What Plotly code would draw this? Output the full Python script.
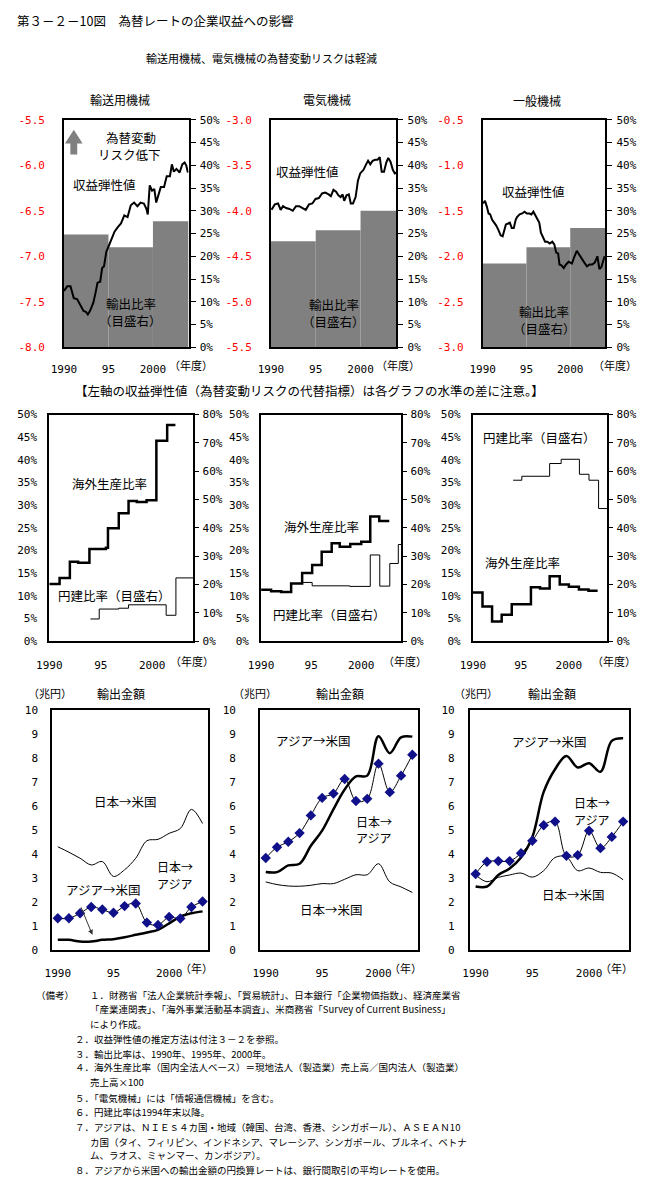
import plotly.graph_objects as go

W, H = 669, 1201
JP = "Noto Sans CJK JP"
MONO = "DejaVu Sans Mono"

# ======================= DATA =======================
# x tick labels
year_ticks = [1990, 1995, 2000]
year_tick_text = ["1990", "95", "2000"]

# ---- Top row: 収益弾性値 (left, red axis) and 輸出比率 (right axis, %) ----
top_titles = ["輸送用機械", "電気機械", "一般機械"]
left_ticks_transport = [-8.0, -7.5, -7.0, -6.5, -6.0, -5.5]
left_ticks_electric = [-5.5, -5.0, -4.5, -4.0, -3.5, -3.0]
left_ticks_general = [-3.0, -2.5, -2.0, -1.5, -1.0, -0.5]
left_text_transport = ["-8.0", "-7.5", "-7.0", "-6.5", "-6.0", "-5.5"]
left_text_electric = ["-5.5", "-5.0", "-4.5", "-4.0", "-3.5", "-3.0"]
left_text_general = ["-3.0", "-2.5", "-2.0", "-1.5", "-1.0", "-0.5"]

export_period_mid = [1992.5, 1997.5, 2002.0]
export_period_width = [5, 5, 4]
export_ratio_transport = [24.8, 22.0, 27.7]
export_ratio_electric = [23.3, 25.7, 30.0]
export_ratio_general = [18.4, 22.0, 26.2]

elast_transport_t = [1990.0, 1990.37, 1990.73, 1991.1, 1991.47, 1991.83, 1992.2, 1992.46, 1992.68,
                     1992.93, 1993.3, 1993.55, 1993.77, 1994.07, 1994.29, 1994.5, 1994.76, 1995.02,
                     1995.31, 1995.68, 1996.05, 1996.41, 1996.78, 1997.15, 1997.51, 1997.88, 1998.25,
                     1998.61, 1998.98, 1999.27, 1999.42, 1999.64, 1999.9, 2000.15, 2000.37, 2000.63,
                     2000.88, 2001.25, 2001.55, 2001.91, 2002.13, 2002.35, 2002.64, 2003.0, 2003.3,
                     2003.56, 2003.74, 2003.93]
elast_transport = [-7.38, -7.33, -7.33, -7.46, -7.47, -7.53, -7.60, -7.61, -7.64, -7.60, -7.51,
                   -7.40, -7.29, -7.28, -7.13, -7.11, -6.95, -6.89, -6.82, -6.73, -6.68, -6.64,
                   -6.55, -6.57, -6.44, -6.41, -6.45, -6.41, -6.42, -6.48, -6.54, -6.22, -6.28,
                   -6.26, -6.41, -6.32, -6.24, -6.24, -6.12, -6.12, -5.99, -6.07, -6.04, -6.08,
                   -5.99, -5.97, -6.00, -6.08]

elast_electric_t = [1990.07, 1990.44, 1990.8, 1991.09, 1991.35, 1991.7, 1992.07, 1992.44, 1992.8,
                    1993.16, 1993.53, 1993.89, 1994.25, 1994.62, 1994.98, 1995.35, 1995.71, 1996.07,
                    1996.44, 1996.69, 1996.98, 1997.27, 1997.53, 1997.78, 1998.0, 1998.18, 1998.44,
                    1998.69, 1998.91, 1999.16, 1999.45, 1999.71, 1999.96, 2000.33, 2000.62, 2000.84,
                    2001.09, 2001.35, 2001.64, 2001.89, 2002.14, 2002.36, 2002.62, 2002.87, 2003.09,
                    2003.34, 2003.6, 2003.82, 2004.0]
elast_electric = [-3.99, -3.93, -3.92, -3.99, -3.95, -3.97, -3.98, -4.00, -3.95, -3.95, -3.97,
                  -3.99, -3.93, -3.92, -3.87, -3.86, -3.81, -3.80, -3.82, -3.84, -3.77, -3.79,
                  -3.83, -3.85, -3.82, -3.89, -3.83, -3.82, -3.92, -3.92, -3.85, -3.67, -3.59,
                  -3.55, -3.49, -3.45, -3.49, -3.45, -3.44, -3.44, -3.41, -3.57, -3.57, -3.47,
                  -3.42, -3.46, -3.55, -3.59, -3.58]

elast_general_t = [1990.04, 1990.26, 1990.49, 1990.67, 1990.86, 1991.08, 1991.31, 1991.53, 1991.79,
                   1992.05, 1992.28, 1992.46, 1992.65, 1992.91, 1993.1, 1993.32, 1993.55, 1993.77,
                   1993.92, 1994.22, 1994.52, 1994.78, 1995.04, 1995.34, 1995.56, 1995.79, 1996.01,
                   1996.27, 1996.46, 1996.65, 1996.91, 1997.13, 1997.39, 1997.65, 1997.95, 1998.18,
                   1998.4, 1998.62, 1998.77, 1999.0, 1999.26, 1999.52, 1999.82, 2000.19, 2000.49,
                   2000.75, 2001.01, 2001.31, 2001.61, 2001.91, 2002.21, 2002.51, 2002.8, 2003.1,
                   2003.33, 2003.55, 2003.77, 2003.92]
elast_general = [-1.42, -1.39, -1.46, -1.53, -1.54, -1.60, -1.63, -1.66, -1.71, -1.77, -1.78,
                 -1.72, -1.65, -1.64, -1.63, -1.69, -1.69, -1.60, -1.57, -1.54, -1.53, -1.51,
                 -1.53, -1.53, -1.54, -1.51, -1.55, -1.58, -1.63, -1.74, -1.79, -1.84, -1.84,
                 -1.86, -1.84, -1.87, -1.96, -1.97, -2.09, -2.10, -2.13, -2.09, -2.06, -2.08,
                 -2.00, -1.94, -1.98, -2.03, -2.07, -2.11, -2.09, -2.09, -2.07, -2.00, -2.14,
                 -2.12, -2.03, -2.00]

# ---- Middle row: 海外生産比率 (left %, thick) and 円建比率 (right %, thin), step lines ----
overseas_transport_t = [1990, 1991, 1992, 1992.8, 1993.9, 1995.5, 1995.7, 1996.75, 1997.7, 1998.5,
                        1999.45, 2000.4, 2001.45, 2002.25]
overseas_transport = [12.6, 13.9, 17.5, 17.3, 20.3, 20.6, 24.9, 28.2, 30.9, 30.7, 31.1, 44.2, 47.7, 47.7]
yen_transport_t = [1994.0, 1994.85, 1996.75, 1997.7, 2001.35, 2002.3, 2004.0]
yen_transport = [7.8, 11.3, 11.6, 12.8, 9.1, 22.3, 22.3]

overseas_electric_t = [1990, 1991.0, 1992.0, 1993.0, 1994.1, 1995.1, 1996.05, 1997.05, 1997.85,
                       1998.9, 2000.0, 2000.9, 2001.8, 2002.8]
overseas_electric = [11.3, 11.0, 10.8, 12.7, 15.0, 16.8, 19.7, 21.6, 20.8, 21.4, 21.9, 27.5, 26.5, 26.5]
yen_electric_t = [1994.1, 1995.1, 1998.85, 2000.9, 2001.85, 2002.85, 2003.7, 2004.0]
yen_electric = [20.7, 19.5, 19.3, 30.4, 19.4, 27.4, 34.1, 34.1]

overseas_general_t = [1990, 1991.0, 1992.0, 1993.0, 1994.05, 1995.0, 1996.05, 1997.0, 1998.0,
                      1999.05, 2000.0, 2001.05, 2002.05, 2003.0]
overseas_general = [10.7, 7.6, 4.3, 5.8, 8.1, 8.1, 11.9, 11.6, 14.3, 12.5, 12.0, 11.4, 11.1, 11.1]
yen_general_t = [1994.2, 1995.1, 1998.0, 1999.2, 2001.1, 2002.1, 2003.1, 2004.0]
yen_general = [56.8, 58.2, 62.7, 64.2, 58.9, 56.8, 46.8, 46.8]

# ---- Bottom row: 輸出金額 (兆円) ----
export_years = list(range(1990, 2004))
jp_asia_transport = [1.31, 1.31, 1.52, 1.78, 1.68, 1.54, 1.82, 1.93, 1.13, 1.03, 1.37, 1.30, 1.78, 2.01]
jp_us_transport = [4.30, 4.07, 3.82, 3.54, 3.68, 3.06, 3.34, 3.82, 4.55, 4.61, 4.86, 5.06, 5.86, 5.27]
asia_us_transport = [0.41, 0.41, 0.34, 0.34, 0.41, 0.44, 0.52, 0.62, 0.72, 0.83, 1.10, 1.38, 1.52, 1.60]

jp_asia_electric = [3.83, 4.28, 4.51, 4.87, 5.61, 6.34, 6.52, 7.13, 6.21, 6.30, 7.77, 6.58, 7.27, 8.14]
jp_us_electric = [2.83, 2.72, 2.66, 2.65, 2.69, 2.76, 2.76, 2.94, 3.13, 3.13, 3.59, 2.83, 2.62, 2.39]
asia_us_electric = [3.24, 3.24, 3.52, 3.59, 4.34, 4.97, 5.86, 6.69, 7.24, 7.27, 8.92, 8.21, 8.87, 8.90]

jp_asia_general = [3.16, 3.67, 3.70, 3.70, 4.03, 4.55, 5.20, 5.35, 3.92, 3.95, 4.97, 4.24, 4.71, 5.35]
jp_us_general = [3.12, 2.84, 3.02, 3.12, 3.20, 3.03, 3.30, 3.85, 3.88, 3.30, 3.41, 3.23, 3.20, 2.92]
asia_us_general = [2.64, 2.64, 3.12, 3.39, 3.85, 4.71, 6.59, 7.54, 8.09, 7.61, 7.79, 7.43, 8.72, 8.83]

# ======================= LAYOUT HELPERS =======================
def px(x):
    return x / W

def py(y):
    return 1 - y / H

def aname(p, n):
    return p + "axis" + ("" if n == 1 else str(n))

def aref(p, n):
    return p + ("" if n == 1 else str(n))

# panel boxes in pixels: (left, right, top, bottom)
boxes = {
    1: (52, 179, 115, 345), 2: (263, 391, 115, 345), 3: (479, 604, 115, 345),
    4: (37, 184, 413, 642), 5: (253, 396, 413, 642), 6: (469, 606, 413, 642),
    7: (40, 199, 712, 954), 8: (252, 413, 712, 954), 9: (466, 628, 712, 954),
}

fig = go.Figure()
layout = dict(width=W, height=H, margin=dict(l=0, r=0, t=0, b=0),
              paper_bgcolor="white", plot_bgcolor="white", showlegend=False,
              font=dict(family=JP, size=11, color="black"))
annotations = []
shapes = []

tickfont = dict(family=MONO, size=11, color="black")
redfont = dict(family=MONO, size=11, color="#ff0000")


def make_x(n, rng, standoff):
    l, r, t, b = boxes[n]
    layout[aname("x", n)] = dict(
        domain=[px(l), px(r)], range=rng, anchor=aref("y", n),
        showline=True, mirror=True, linecolor="black", linewidth=2,
        showgrid=False, zeroline=False, ticks="",
        tickmode="array", tickvals=year_ticks, ticktext=year_tick_text,
        tickfont=tickfont, ticklabelstandoff=standoff)


def make_y(n, rng, side, dtick, suffix="", ticks="", standoff=0, mirror=True,
           showline=True, overlay=None, font=tickfont, tickvals=None, ticktext=None, idx=None):
    l, r, t, b = boxes[n]
    d = dict(domain=[py(b), py(t)], range=rng, anchor=aref("x", n), side=side,
             showline=showline, mirror=mirror, linecolor="black", linewidth=2,
             showgrid=False, zeroline=False, ticks=ticks, ticklen=5, tickcolor="black",
             tickwidth=1, tickfont=font, ticklabelstandoff=standoff)
    if tickvals is not None:
        d.update(tickmode="array", tickvals=tickvals, ticktext=ticktext)
    else:
        d.update(tick0=0, dtick=dtick, ticksuffix=suffix)
    if overlay is not None:
        d["overlaying"] = aref("y", overlay)
        d.pop("domain")
    layout[aname("y", idx if idx else n)] = d


def ann(text, x, y, size=12.5, xanchor="center", color="black", family=JP, yanchor="middle"):
    annotations.append(dict(text=text, x=px(x), y=py(y), xref="paper", yref="paper",
                            showarrow=False, xanchor=xanchor, yanchor=yanchor, borderpad=0,
                            font=dict(size=size, color=color, family=family)))

# ======================= TOP ROW =======================
top_data = [
    (1, export_ratio_transport, elast_transport_t, elast_transport, [-8.0, -5.5],
     left_ticks_transport, left_text_transport),
    (2, export_ratio_electric, elast_electric_t, elast_electric, [-5.5, -3.0],
     left_ticks_electric, left_text_electric),
    (3, export_ratio_general, elast_general_t, elast_general, [-3.0, -0.5],
     left_ticks_general, left_text_general),
]
for n, ratio, et, ev, lr, lt, ltt in top_data:
    make_x(n, [1990, 2004], 11)
    make_y(n, [0, 50], "right", 5, "%", ticks="outside", standoff=2)
    make_y(n, lr, "left", None, overlay=n, showline=False, mirror=False, standoff=18,
           font=redfont, tickvals=lt, ticktext=ltt, idx=10 + n)
    fig.add_trace(go.Bar(x=export_period_mid, y=ratio, width=export_period_width,
                         marker=dict(color="#808080", line=dict(width=0)),
                         xaxis=aref("x", n), yaxis=aref("y", n)))
    fig.add_trace(go.Scatter(x=et, y=ev, mode="lines", line=dict(color="black", width=2),
                             xaxis=aref("x", n), yaxis=aref("y", 10 + n)))

# ======================= MIDDLE ROW =======================
mid_data = [
    (4, overseas_transport_t, overseas_transport, yen_transport_t, yen_transport),
    (5, overseas_electric_t, overseas_electric, yen_electric_t, yen_electric),
    (6, overseas_general_t, overseas_general, yen_general_t, yen_general),
]
for n, ot, ov, yt, yv in mid_data:
    make_x(n, [1990, 2004], 13)
    make_y(n, [0, 50], "left", 5, "%", standoff=8)
    make_y(n, [0, 80], "right", 10, "%", ticks="outside", overlay=n, showline=False,
           mirror=False, standoff=1, idx=10 + n)
    fig.add_trace(go.Scatter(x=ot, y=ov, mode="lines", line=dict(color="black", width=2.5, shape="hv"),
                             xaxis=aref("x", n), yaxis=aref("y", n)))
    fig.add_trace(go.Scatter(x=yt, y=yv, mode="lines", line=dict(color="black", width=1, shape="hv"),
                             xaxis=aref("x", n), yaxis=aref("y", 10 + n)))

# ======================= BOTTOM ROW =======================
bot_data = [
    (7, jp_asia_transport, jp_us_transport, asia_us_transport, 10),
    (8, jp_asia_electric, jp_us_electric, asia_us_electric, 20),
    (9, jp_asia_general, jp_us_general, asia_us_general, 11),
]
for n, ja, ju, au, so in bot_data:
    make_x(n, [1989.5, 2003.5], 12)
    make_y(n, [0, 10], "left", 1, standoff=so)
    fig.add_trace(go.Scatter(x=export_years, y=ju, mode="lines",
                             line=dict(color="black", width=1, shape="spline"),
                             xaxis=aref("x", n), yaxis=aref("y", n)))
    fig.add_trace(go.Scatter(x=export_years, y=au, mode="lines",
                             line=dict(color="black", width=2.5, shape="spline"),
                             xaxis=aref("x", n), yaxis=aref("y", n)))
    fig.add_trace(go.Scatter(x=export_years, y=ja, mode="lines+markers",
                             line=dict(color="black", width=1, shape="spline"),
                             marker=dict(symbol="diamond", size=8, color="#10108a"),
                             xaxis=aref("x", n), yaxis=aref("y", n)))

# ======================= TEXT =======================
ann("第３－２－10図　為替レートの企業収益への影響", 3, 15, size=12.5, xanchor="left")
ann("輸送用機械、電気機械の為替変動リスクは軽減", 253, 53, size=11)

# top row
ann(top_titles[0], 109, 95, size=12)
ann(top_titles[1], 320, 95, size=12)
ann(top_titles[2], 534, 96, size=12)
for x in (182, 393, 614):
    ann("（年度）", x, 363, size=11)
ann("為替変動", 120, 133, size=12.5)
ann("リスク低下", 119, 150, size=12.5)
ann("収益弾性値", 93, 180, size=12.5)
ann("輸出比率", 120, 301, size=12.5)
ann("（目盛右）", 120, 318, size=12.5)
ann("収益弾性値", 300, 167, size=12.5)
ann("輸出比率", 327, 302, size=12.5)
ann("（目盛右）", 327, 319, size=12.5)
ann("収益弾性値", 531, 188, size=12.5)
ann("輸出比率", 542, 309, size=12.5)
ann("（目盛右）", 542, 326, size=12.5)

# gray up arrow (decoration)
ax_pts = [(62, 125), (53, 139), (58.5, 139), (58.5, 150), (65.5, 150), (65.5, 139), (71, 139)]
path = "M " + " L ".join(f"{px(a):.5f},{py(b):.5f}" for a, b in ax_pts) + " Z"
shapes.append(dict(type="path", path=path, xref="paper", yref="paper",
                   fillcolor="#808080", line=dict(width=0)))

# middle row
ann("【左軸の収益弾性値（為替変動リスクの代替指標）は各グラフの水準の差に注意。】", 302, 389, size=12.5)
for x in (183, 400, 613):
    ann("（年度）", x, 662, size=11)
ann("海外生産比率", 98, 483, size=12.5)
ann("円建比率（目盛右）", 104, 596, size=12.5)
ann("海外生産比率", 315, 526, size=12.5)
ann("円建比率（目盛右）", 323, 615, size=12.5)
ann("円建比率（目盛右）", 537, 436, size=12.5)
ann("海外生産比率", 520, 563, size=12.5)

# bottom row
for xu, xt in ((38, 110), (247, 333), (472, 550)):
    ann("（兆円）", xu, 695, size=11)
    ann("輸出金額", xt, 695, size=12)
for x in (187, 400, 615):
    ann("（年）", x, 973, size=11)
ann("日本→米国", 115, 804, size=12.5)
ann("日本→", 165, 870, size=12)
ann("アジア", 165, 887, size=12)
ann("アジア→米国", 92, 893, size=12.5)
annotations.append(dict(text="", x=px(81), y=py(939), ax=-12, ay=-29, xref="paper", yref="paper",
                        showarrow=True, arrowhead=2, arrowsize=1, arrowwidth=1, arrowcolor="#333333"))
ann("アジア→米国", 306, 743, size=12.5)
ann("日本→", 368, 824, size=12)
ann("アジア", 368, 841, size=12)
ann("日本→米国", 325, 913, size=12.5)
ann("アジア→米国", 547, 744, size=12.5)
ann("日本→", 590, 805, size=12)
ann("アジア", 590, 822, size=12)
ann("日本→米国", 572, 898, size=12.5)

# notes
notes = [
    (22, 1000, "（備考）"),
    (77, 1000, "１．財務省「法人企業統計季報」、「貿易統計」、日本銀行「企業物価指数」、経済産業省"),
    (77, 1014, "「産業連関表」、「海外事業活動基本調査」、米商務省「Survey of Current Business」"),
    (77, 1029, "により作成。"),
    (62, 1044, "２．収益弾性値の推定方法は付注３－２を参照。"),
    (62, 1059, "３．輸出比率は、1990年、1995年、2000年。"),
    (62, 1073, "４．海外生産比率（国内全法人ベース）＝現地法人（製造業）売上高／国内法人（製造業）"),
    (77, 1088, "売上高×100"),
    (62, 1104, "５．「電気機械」には「情報通信機械」を含む。"),
    (62, 1118, "６．円建比率は1994年末以降。"),
    (62, 1133, "７．アジアは、ＮＩＥｓ４カ国・地域（韓国、台湾、香港、シンガポール）、ＡＳＥＡＮ10"),
    (77, 1148, "カ国（タイ、フィリピン、インドネシア、マレーシア、シンガポール、ブルネイ、ベトナ"),
    (77, 1162, "ム、ラオス、ミャンマー、カンボジア）。"),
    (62, 1177, "８．アジアから米国への輸出金額の円換算レートは、銀行間取引の平均レートを使用。"),
]
for x, y, t in notes:
    ann(t, x, y, size=9.5, xanchor="left")

layout["annotations"] = annotations
layout["shapes"] = shapes
fig.update_layout(**layout)
fig.write_html("out.html")
